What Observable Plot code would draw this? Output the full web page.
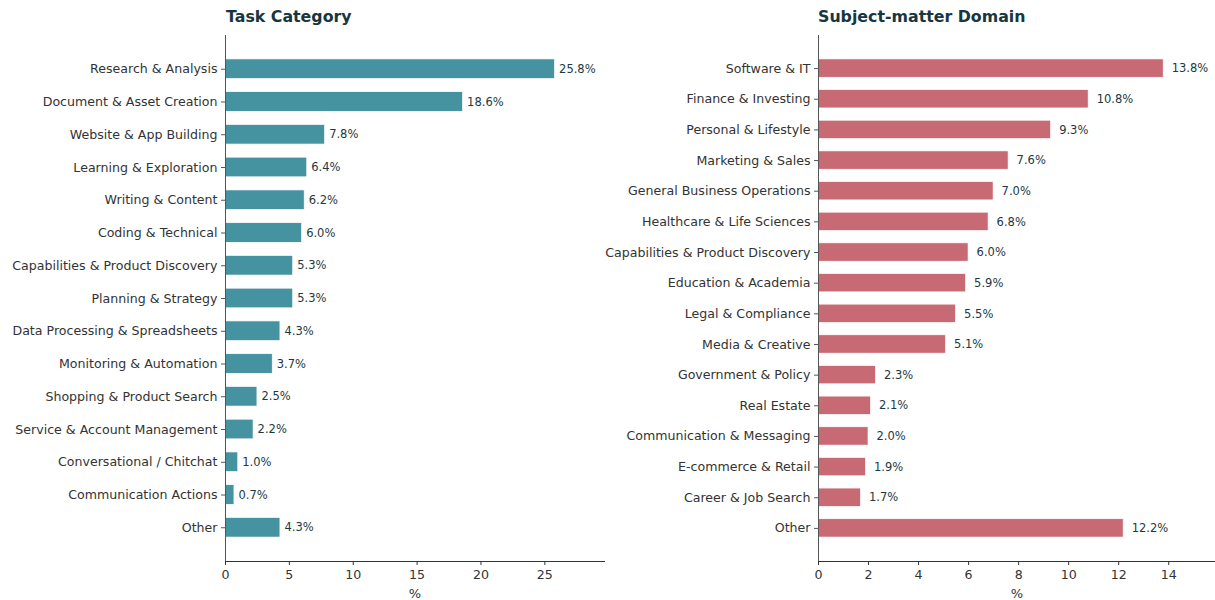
<!DOCTYPE html>
<html>
<head>
<meta charset="utf-8">
<script src="https://cdn.jsdelivr.net/npm/d3@7"></script>
<script src="https://cdn.jsdelivr.net/npm/@observablehq/plot@0.6"></script>
<style>
  html, body { margin: 0; padding: 0; background: white; }
  #wrap { position: relative; width: 1215px; height: 600px; overflow: hidden; font-family: "DejaVu Sans", sans-serif; }
  .panel { position: absolute; top: 0; z-index: 1; }
  .title { position: absolute; top: 7px; z-index: 2; font-weight: bold; font-size: 15.8px; color: #17363f; white-space: nowrap; }
</style>
</head>
<body>
<div id="wrap">
  <div class="panel" id="p1" style="left:0px;"></div>
  <div class="panel" id="p2" style="left:610px;"></div>
  <div class="title" id="t1" style="left:226px;">Task Category</div>
  <div class="title" id="t2" style="left:818px;">Subject-matter Domain</div>
</div>
<script>
const taskCategories = [
  "Research & Analysis", "Document & Asset Creation", "Website & App Building",
  "Learning & Exploration", "Writing & Content", "Coding & Technical",
  "Capabilities & Product Discovery", "Planning & Strategy",
  "Data Processing & Spreadsheets", "Monitoring & Automation",
  "Shopping & Product Search", "Service & Account Management",
  "Conversational / Chitchat", "Communication Actions", "Other"
];
const taskValues = [25.8, 18.6, 7.8, 6.4, 6.2, 6.0, 5.3, 5.3, 4.3, 3.7, 2.5, 2.2, 1.0, 0.7, 4.3];
const taskTicks = [0, 5, 10, 15, 20, 25];

const domainCategories = [
  "Software & IT", "Finance & Investing", "Personal & Lifestyle", "Marketing & Sales",
  "General Business Operations", "Healthcare & Life Sciences",
  "Capabilities & Product Discovery", "Education & Academia", "Legal & Compliance",
  "Media & Creative", "Government & Policy", "Real Estate",
  "Communication & Messaging", "E-commerce & Retail", "Career & Job Search", "Other"
];
const domainValues = [13.8, 10.8, 9.3, 7.6, 7.0, 6.8, 6.0, 5.9, 5.5, 5.1, 2.3, 2.1, 2.0, 1.9, 1.7, 12.2];
const domainTicks = [0, 2, 4, 6, 8, 10, 12, 14];

const taskColor = "#4592a0";
const domainColor = "#c86a73";

function panel({cats, vals, ticks, color, width, marginLeft, marginRight, dx}) {
  const data = cats.map((c, i) => ({category: c, value: vals[i]}));
  const n = cats.length;
  const max = d3.max(vals);
  return Plot.plot({
    width, height: 600,
    marginTop: 35, marginBottom: 39, marginLeft, marginRight,
    style: {fontFamily: "DejaVu Sans, sans-serif", fontSize: "12.6px", color: "#333", background: "transparent", overflow: "visible"},
    x: {domain: [0, max * 1.15]},
    y: {domain: cats, paddingInner: 0.4, paddingOuter: 0.05 * (n - 0.4), align: 0.5, round: false},
    marks: [
      Plot.barX(data, {x: "value", y: "category", fill: color, stroke: "white", strokeWidth: 0.7}),
      Plot.text(data, {x: "value", y: "category", text: d => d.value.toFixed(1) + "%", textAnchor: "start", dx, fontSize: 11.5, fill: "#1d3940"}),
      Plot.axisY({tickSize: 4, tickPadding: 4, label: null, fontSize: 12.6, stroke: "#555"}),
      Plot.ruleX([0], {stroke: "#555", strokeWidth: 1}),
      Plot.axisX({ticks, tickSize: 4, tickPadding: 5, label: null, fontSize: 12.6, stroke: "#333"}),
      Plot.frame({anchor: "bottom", stroke: "#333"}),
      Plot.text(["%"], {frameAnchor: "bottom", dy: 36, fontSize: 13, fill: "#1d3940"})
    ]
  });
}

document.getElementById("p1").appendChild(panel({
  cats: taskCategories, vals: taskValues, ticks: taskTicks, color: taskColor,
  width: 610, marginLeft: 225, marginRight: 6, dx: 4
}));
document.getElementById("p2").appendChild(panel({
  cats: domainCategories, vals: domainValues, ticks: domainTicks, color: domainColor,
  width: 605, marginLeft: 208, marginRight: 0, dx: 8
}));
</script>
</body>
</html>
